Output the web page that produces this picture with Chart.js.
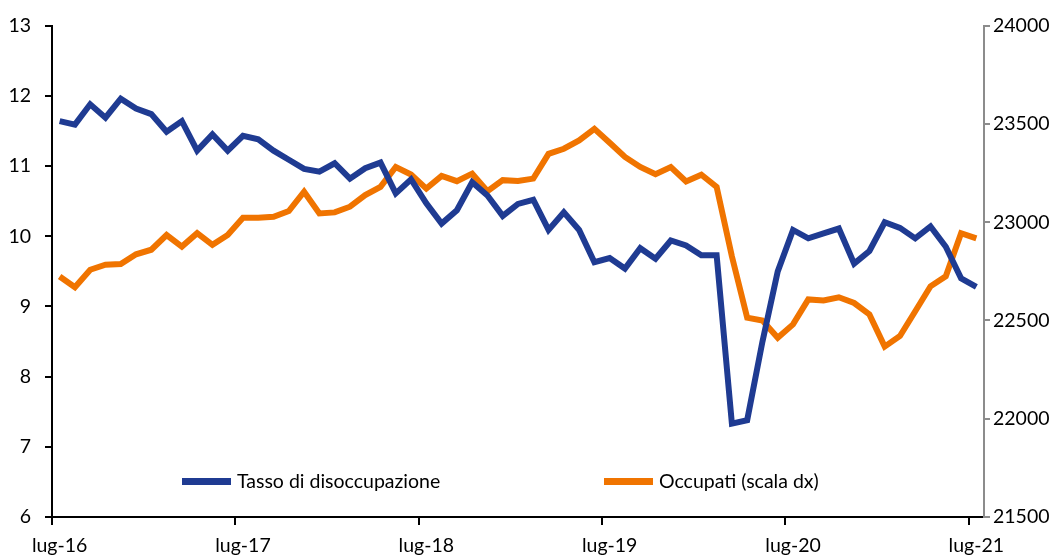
<!DOCTYPE html>
<html>
<head>
<meta charset="utf-8">
<script src="https://cdn.jsdelivr.net/npm/chart.js@4.4.0/dist/chart.umd.min.js"></script>
<style>
  html, body { margin: 0; padding: 0; background: #fff; }
  #wrap { width: 1060px; height: 557px; position: relative; }
</style>
</head>
<body>
<div id="wrap"><canvas id="chart"></canvas></div>
<script>
// monthly labels, lug-16 .. lug-21
const months = ["gen", "feb", "mar", "apr", "mag", "giu", "lug", "ago", "set", "ott", "nov", "dic"];
const labels = [];
for (let i = 0; i < 61; i++) {
    const m = (6 + i) % 12;
    const y = 16 + Math.floor((6 + i) / 12);
    labels.push(months[m] + "-" + y);
}

// Tasso di disoccupazione (%), left axis
const disoccupazione = [
    11.64, 11.59, 11.88, 11.69, 11.96, 11.82, 11.74, 11.49, 11.64, 11.22,
    11.45, 11.22, 11.43, 11.38, 11.22, 11.09, 10.96, 10.92, 11.04, 10.82,
    10.97, 11.05, 10.61, 10.81, 10.47, 10.18, 10.37, 10.77, 10.58, 10.29,
    10.46, 10.52, 10.09, 10.34, 10.09, 9.63, 9.69, 9.54, 9.83, 9.68,
    9.94, 9.87, 9.73, 9.73, 7.33, 7.38, 8.50, 9.50, 10.09, 9.97,
    10.04, 10.11, 9.61, 9.79, 10.20, 10.12, 9.97, 10.14, 9.85, 9.40,
    9.28
];

// Occupati (migliaia), right axis
const occupati = [
    22724, 22669, 22758, 22784, 22787, 22837, 22860, 22935, 22876, 22944,
    22885, 22935, 23023, 23023, 23028, 23057, 23155, 23045, 23050, 23079,
    23138, 23180, 23281, 23243, 23171, 23236, 23209, 23247, 23158, 23214,
    23210, 23222, 23348, 23374, 23416, 23475, 23404, 23332, 23281, 23244,
    23281, 23207, 23242, 23180, 22826, 22514, 22500, 22412, 22480, 22607,
    22602, 22618, 22589, 22531, 22367, 22421, 22547, 22674, 22725, 22944,
    22918
];

const BLUE = "#1f3b92";
const ORANGE = "#f07400";
const FONT = "Lato, 'Open Sans', sans-serif";
const FSIZE = 19.5;

// legend drawn inside the plot area, near the bottom
const insideLegend = {
    id: "insideLegend",
    afterDraw(chart) {
        const ctx = chart.ctx;
        const area = chart.chartArea;
        const items = [
            { x: area.left + 130, ds: chart.data.datasets[0] },
            { x: area.left + 552, ds: chart.data.datasets[1] }
        ];
        const y = 482;
        ctx.save();
        ctx.font = FSIZE + "px " + FONT;
        ctx.textBaseline = "middle";
        items.forEach(it => {
            ctx.fillStyle = it.ds.borderColor;
            ctx.fillRect(it.x, y - 4, 49, 7);
            ctx.fillStyle = "#000";
            ctx.fillText(it.ds.label, it.x + 55, y);
        });
        ctx.restore();
    }
};

new Chart(document.getElementById("chart").getContext("2d"), {
    type: "line",
    data: {
        labels: labels,
        datasets: [
            {
                label: "Tasso di disoccupazione",
                data: disoccupazione,
                yAxisID: "y",
                borderColor: BLUE,
                borderWidth: 6,
                pointRadius: 0,
                tension: 0,
                fill: false
            },
            {
                label: "Occupati (scala dx)",
                data: occupati,
                yAxisID: "y1",
                borderColor: ORANGE,
                borderWidth: 6,
                pointRadius: 0,
                tension: 0,
                fill: false
            }
        ]
    },
    options: {
        responsive: true,
        maintainAspectRatio: false,
        animation: false,
        layout: { padding: { top: 23, left: 0, right: 0, bottom: 0 } },
        plugins: {
            legend: { display: false },
            tooltip: { enabled: false }
        },
        scales: {
            x: {
                offset: true,
                grid: {
                    offset: true,
                    drawOnChartArea: false,
                    drawTicks: true,
                    tickLength: 8,
                    lineWidth: 2,
                    color: c => (c.index % 12 === 0 ? "#000" : "rgba(0,0,0,0)")
                },
                border: { color: "#000", width: 2 },
                ticks: {
                    autoSkip: false,
                    maxRotation: 0,
                    padding: 9,
                    color: "#000",
                    font: { family: FONT, size: FSIZE },
                    callback: (v, i) => (i % 12 === 0 ? labels[i] : "")
                },
                afterFit: s => { s.height = 40; }
            },
            y: {
                position: "left",
                min: 6,
                max: 13,
                ticks: { stepSize: 1, padding: 14, color: "#000", font: { family: FONT, size: FSIZE } },
                grid: { drawOnChartArea: false, tickLength: 7, lineWidth: 2, color: "#000" },
                border: { color: "#000", width: 2 },
                afterFit: s => { s.width = 52; }
            },
            y1: {
                position: "right",
                min: 21500,
                max: 24000,
                ticks: {
                    stepSize: 500,
                    padding: 3,
                    color: "#000",
                    font: { family: FONT, size: FSIZE },
                    callback: v => String(v)
                },
                grid: { drawOnChartArea: false, tickLength: 6, lineWidth: 2, color: "#8c8c8c" },
                border: { color: "#8c8c8c", width: 2 },
                afterFit: s => { s.width = 76; }
            }
        }
    },
    plugins: [insideLegend]
});
</script>
</body>
</html>
